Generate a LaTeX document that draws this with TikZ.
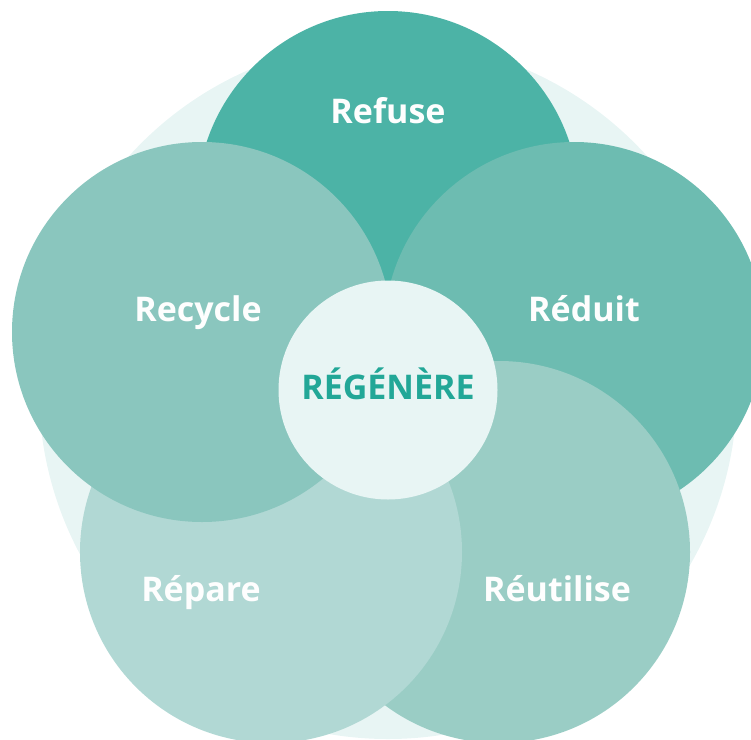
\documentclass[tikz,border=0pt]{standalone}
\usepackage{fontspec}
\setmainfont{Open Sans}
\definecolor{pale}{HTML}{E8F5F4}
\definecolor{refusecol}{HTML}{4CB3A6}
\definecolor{reduitcol}{HTML}{6DBCB1}
\definecolor{reutilcol}{HTML}{9ACDC5}
\definecolor{reparecol}{HTML}{B1D8D4}
\definecolor{recyclecol}{HTML}{8AC6BE}
\definecolor{coretext}{HTML}{22A797}
\tikzset{
  word/.style={font=\bfseries\fontsize{34}{40}\selectfont, text=white!96!pale, anchor=base, inner sep=0pt}
}

\begin{document}
\begin{tikzpicture}[x=1pt,y=-1pt]
\useasboundingbox (0,0) rectangle (751,739);
\coordinate (O) at (388,390);
\coordinate (F) at (388,202);
\coordinate (D) at (574,332);
\coordinate (U) at (499,552);
\coordinate (P) at (271,552);
\coordinate (C) at (202,332);
% background disc
\fill [pale] (O) circle (349pt);
% petals, each one over the last
\fill [refusecol] (F) circle (191pt);
\fill [reduitcol] (D) circle (190pt);
\fill [reutilcol] (U) circle (191pt);
\fill [reparecol] (P) circle (191pt);
\fill [recyclecol] (C) circle (190pt);
\fill [pale] (O) circle (109.5pt);
% labels
\node [word] (refuse) at (388,123) {Refuse};
\node [word] (reduit) at (584,321) {Réduit};
\node [word] (reutilise) at (557,601) {Réutilise};
\node [word] (repare) at (201,601) {Répare};
\node [word] (recycle) at (198,321) {Recycle};
\node [word,text=coretext] (core) at (388,399) {RÉGÉNÈRE};
\end{tikzpicture}
\end{document}
